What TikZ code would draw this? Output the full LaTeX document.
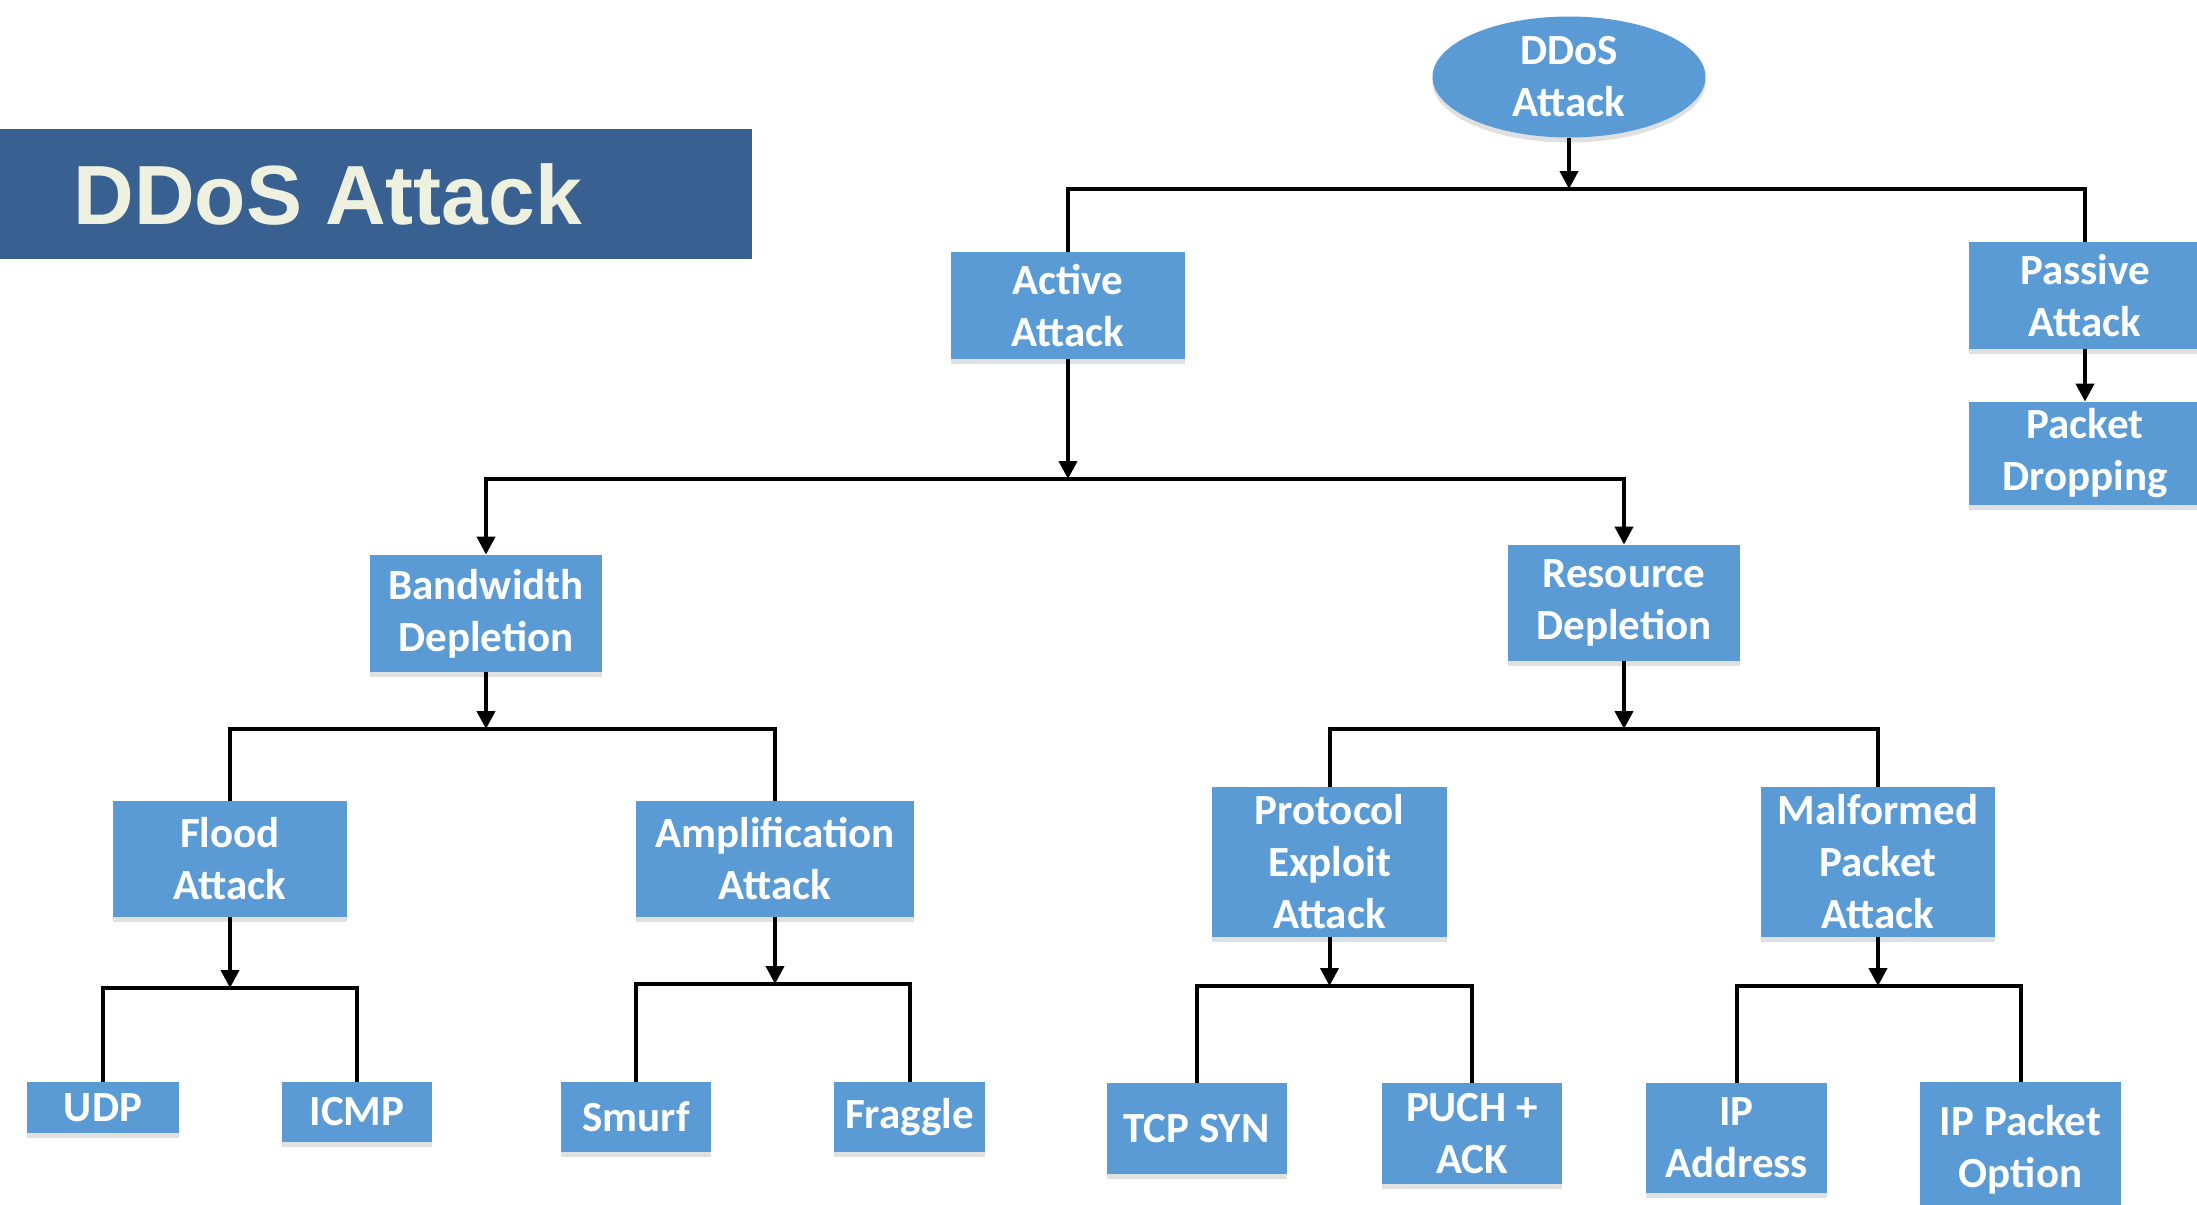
\documentclass[tikz,border=0pt]{standalone}
\usepackage{fontspec}
\newfontfamily\boxfont{Carlito}
\newfontfamily\titlefont{Liberation Sans}
\usetikzlibrary{arrows.meta,shapes.geometric,shadows}
\definecolor{boxblue}{HTML}{5B9BD5}
\definecolor{bannerblue}{HTML}{386192}
\definecolor{cream}{HTML}{EEF1DF}
\begin{document}
\begin{tikzpicture}[x=0.5pt,y=-0.5pt,
  box/.style={fill=boxblue, text=white, font=\boxfont\bfseries\fontsize{21.5}{26}\selectfont,
    align=center, inner sep=0pt,
    drop shadow={shadow xshift=0pt, shadow yshift=-2.5pt, opacity=0.12, fill=black}},
  conn/.style={line width=2pt, draw=black},
  arr/.style={conn, -{Triangle[length=9pt,width=9pt]}}
]
\useasboundingbox (0,0) rectangle (2197,1205);

% banner
\node[fill=bannerblue, minimum width=376pt, minimum height=65pt, anchor=north west, inner sep=0pt] (banner) at (0,129) {};
\node[anchor=base west, inner sep=0pt, text=cream, font=\titlefont\bfseries\fontsize{42}{50}\selectfont] (title) at (73,224) {DDoS Attack};

% nodes
\node[box, ellipse, minimum width=136.5pt, minimum height=60.5pt] (root) at (1569,77) {DDoS\\Attack};
\node[box, minimum width=117pt, minimum height=53.5pt] (active) at (1068,305.5) {Active\\Attack};
\node[box, minimum width=116pt, minimum height=53.5pt] (passive) at (2085,295.5) {Passive\\Attack};
\node[box, minimum width=116pt, minimum height=51.5pt] (drop) at (2085,453.5) {Packet\\Dropping};
\node[box, minimum width=116pt, minimum height=58.5pt] (bw) at (486,613.5) {Bandwidth\\Depletion};
\node[box, minimum width=116pt, minimum height=58pt] (rd) at (1624,603) {Resource\\Depletion};
\node[box, minimum width=117pt, minimum height=58pt] (flood) at (230,859) {Flood\\Attack};
\node[box, minimum width=139pt, minimum height=58pt] (amp) at (775,859) {Amplification\\Attack};
\node[box, minimum width=117.5pt, minimum height=75pt] (proto) at (1329.5,862) {Protocol\\Exploit\\Attack};
\node[box, minimum width=117pt, minimum height=75pt] (malf) at (1878,862) {Malformed\\Packet\\Attack};
\node[box, minimum width=76pt, minimum height=25.5pt] (udp) at (103,1107.5) {UDP};
\node[box, minimum width=75pt, minimum height=30pt] (icmp) at (357,1112) {ICMP};
\node[box, minimum width=75pt, minimum height=35pt] (smurf) at (636,1117) {Smurf};
\node[box, minimum width=75.5pt, minimum height=35pt] (fraggle) at (909.5,1117) {Fraggle};
\node[box, minimum width=90pt, minimum height=45.5pt] (tcp) at (1196.5,1128.5) {TCP SYN};
\node[box, minimum width=90pt, minimum height=50.5pt] (puch) at (1472,1133.5) {PUCH +\\ACK};
\node[box, minimum width=90.5pt, minimum height=55pt] (ipa) at (1736.5,1138) {IP\\Address};
\node[box, minimum width=100.5pt, minimum height=68pt] (ipo) at (2020.5,1150) {IP Packet\\Option};

% junctions
\coordinate (j0) at (1569,189);
\coordinate (j1) at (1068,479);
\coordinate (j2) at (486,729);
\coordinate (j3) at (1624,729);
\coordinate (j4) at (230,988);
\coordinate (j5) at (775,984);
\coordinate (j6) at (1329.5,986);
\coordinate (j7) at (1878,986);

% connectors
\draw[arr] (root.south) -- (j0);
\draw[conn] (active.north) |- (j0) -| (passive.north);
\draw[arr] (passive.south) -- (drop.north);
\draw[arr] (active.south) -- (j1);
\draw[arr] (j1) -| (bw.north);
\draw[arr] (j1) -| (rd.north);
\draw[arr] (bw.south) -- (j2);
\draw[conn] (flood.north) |- (j2) -| (amp.north);
\draw[arr] (rd.south) -- (j3);
\draw[conn] (proto.north) |- (j3) -| (malf.north);
\draw[arr] (flood.south) -- (j4);
\draw[conn] (udp.north) |- (j4) -| (icmp.north);
\draw[arr] (amp.south) -- (j5);
\draw[conn] (smurf.north) |- (j5) -| (fraggle.north);
\draw[arr] (proto.south) -- (j6);
\draw[conn] (tcp.north) |- (j6) -| (puch.north);
\draw[arr] (malf.south) -- (j7);
\draw[conn] (ipa.north) |- (j7) -| (ipo.north);
\end{tikzpicture}
\end{document}
